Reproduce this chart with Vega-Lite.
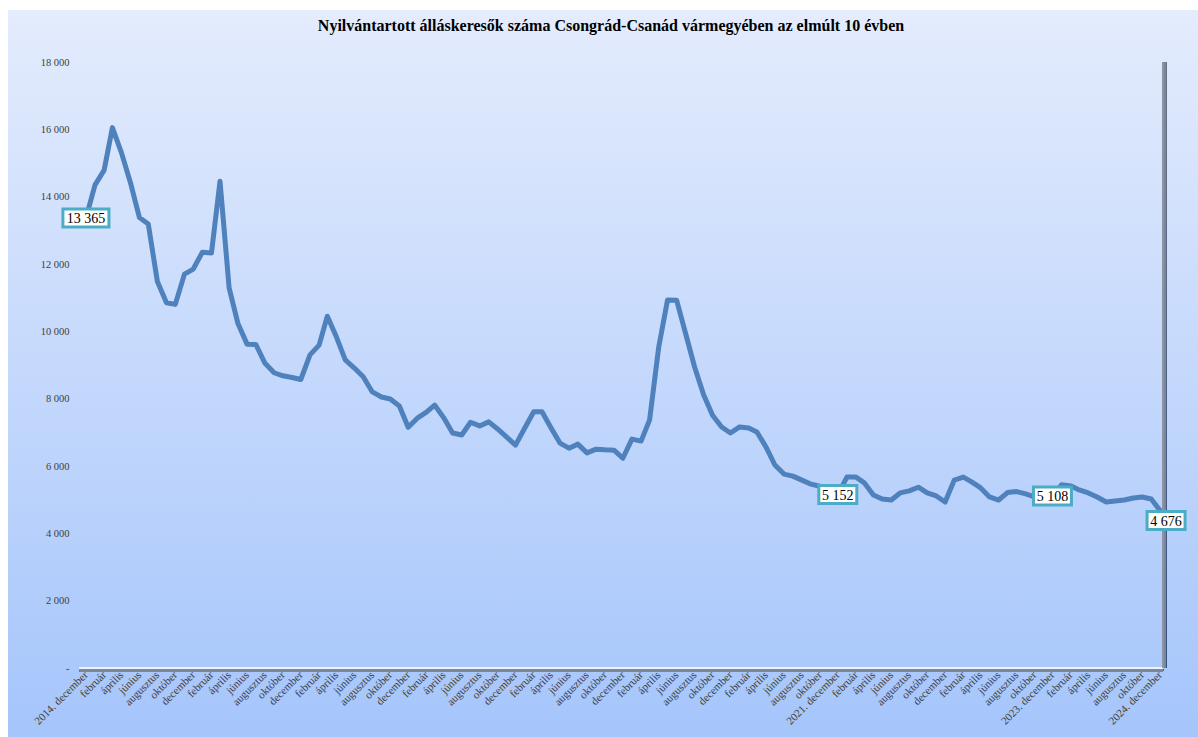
{
  "$schema": "https://vega.github.io/schema/vega-lite/v6.json",
  "autosize": {"type": "none"},
  "padding": {"left": 8, "top": 10, "right": 0, "bottom": 0},
  "width": 1190,
  "height": 727,
  "background": "white",
  "config": {
    "locale": {"number": {"decimal": ",", "thousands": " ", "grouping": [3], "currency": ["", " Ft"]}},
    "view": {"stroke": null, "fill": {"gradient": "linear", "x1": 0, "y1": 0, "x2": 0, "y2": 1, "stops": [{"offset": 0, "color": "#e4ecfd"}, {"offset": 1, "color": "#a5c5fb"}]}},
    "title": {"font": "Liberation Serif", "fontSize": 16, "fontWeight": "bold", "color": "#000000", "anchor": "middle", "baseline": "alphabetic", "offset": -24, "dx": 8}
  },
  "title": "Nyilvántartott álláskeresők száma Csongrád-Csanád vármegyében az elmúlt 10 évben",
  "data": {
    "format": {"parse": {"date": "date"}},
    "values": [
      {"date": "2014-12-01", "value": 13365},
      {"date": "2015-01-01", "value": 14350},
      {"date": "2015-02-01", "value": 14790},
      {"date": "2015-03-01", "value": 16050},
      {"date": "2015-04-01", "value": 15300},
      {"date": "2015-05-01", "value": 14430},
      {"date": "2015-06-01", "value": 13380},
      {"date": "2015-07-01", "value": 13190},
      {"date": "2015-08-01", "value": 11480},
      {"date": "2015-09-01", "value": 10850},
      {"date": "2015-10-01", "value": 10800},
      {"date": "2015-11-01", "value": 11700},
      {"date": "2015-12-01", "value": 11850},
      {"date": "2016-01-01", "value": 12350},
      {"date": "2016-02-01", "value": 12330},
      {"date": "2016-03-01", "value": 14460},
      {"date": "2016-04-01", "value": 11290},
      {"date": "2016-05-01", "value": 10230},
      {"date": "2016-06-01", "value": 9620},
      {"date": "2016-07-01", "value": 9610},
      {"date": "2016-08-01", "value": 9050},
      {"date": "2016-09-01", "value": 8770},
      {"date": "2016-10-01", "value": 8680},
      {"date": "2016-11-01", "value": 8630},
      {"date": "2016-12-01", "value": 8570},
      {"date": "2017-01-01", "value": 9300},
      {"date": "2017-02-01", "value": 9590},
      {"date": "2017-03-01", "value": 10450},
      {"date": "2017-04-01", "value": 9830},
      {"date": "2017-05-01", "value": 9150},
      {"date": "2017-06-01", "value": 8910},
      {"date": "2017-07-01", "value": 8650},
      {"date": "2017-08-01", "value": 8200},
      {"date": "2017-09-01", "value": 8050},
      {"date": "2017-10-01", "value": 7990},
      {"date": "2017-11-01", "value": 7780},
      {"date": "2017-12-01", "value": 7150},
      {"date": "2018-01-01", "value": 7420},
      {"date": "2018-02-01", "value": 7600},
      {"date": "2018-03-01", "value": 7810},
      {"date": "2018-04-01", "value": 7430},
      {"date": "2018-05-01", "value": 6980},
      {"date": "2018-06-01", "value": 6920},
      {"date": "2018-07-01", "value": 7300},
      {"date": "2018-08-01", "value": 7190},
      {"date": "2018-09-01", "value": 7310},
      {"date": "2018-10-01", "value": 7100},
      {"date": "2018-11-01", "value": 6860},
      {"date": "2018-12-01", "value": 6620},
      {"date": "2019-01-01", "value": 7120},
      {"date": "2019-02-01", "value": 7610},
      {"date": "2019-03-01", "value": 7610},
      {"date": "2019-04-01", "value": 7130},
      {"date": "2019-05-01", "value": 6680},
      {"date": "2019-06-01", "value": 6530},
      {"date": "2019-07-01", "value": 6650},
      {"date": "2019-08-01", "value": 6390},
      {"date": "2019-09-01", "value": 6500},
      {"date": "2019-10-01", "value": 6480},
      {"date": "2019-11-01", "value": 6470},
      {"date": "2019-12-01", "value": 6230},
      {"date": "2020-01-01", "value": 6800},
      {"date": "2020-02-01", "value": 6740},
      {"date": "2020-03-01", "value": 7370},
      {"date": "2020-04-01", "value": 9530},
      {"date": "2020-05-01", "value": 10930},
      {"date": "2020-06-01", "value": 10920},
      {"date": "2020-07-01", "value": 9950},
      {"date": "2020-08-01", "value": 8940},
      {"date": "2020-09-01", "value": 8110},
      {"date": "2020-10-01", "value": 7510},
      {"date": "2020-11-01", "value": 7160},
      {"date": "2020-12-01", "value": 6980},
      {"date": "2021-01-01", "value": 7160},
      {"date": "2021-02-01", "value": 7130},
      {"date": "2021-03-01", "value": 7010},
      {"date": "2021-04-01", "value": 6560},
      {"date": "2021-05-01", "value": 6030},
      {"date": "2021-06-01", "value": 5760},
      {"date": "2021-07-01", "value": 5700},
      {"date": "2021-08-01", "value": 5580},
      {"date": "2021-09-01", "value": 5460},
      {"date": "2021-10-01", "value": 5400},
      {"date": "2021-11-01", "value": 5300},
      {"date": "2021-12-01", "value": 5152},
      {"date": "2022-01-01", "value": 5670},
      {"date": "2022-02-01", "value": 5670},
      {"date": "2022-03-01", "value": 5500},
      {"date": "2022-04-01", "value": 5140},
      {"date": "2022-05-01", "value": 5020},
      {"date": "2022-06-01", "value": 4990},
      {"date": "2022-07-01", "value": 5200},
      {"date": "2022-08-01", "value": 5260},
      {"date": "2022-09-01", "value": 5370},
      {"date": "2022-10-01", "value": 5200},
      {"date": "2022-11-01", "value": 5110},
      {"date": "2022-12-01", "value": 4930},
      {"date": "2023-01-01", "value": 5580},
      {"date": "2023-02-01", "value": 5670},
      {"date": "2023-03-01", "value": 5530},
      {"date": "2023-04-01", "value": 5350},
      {"date": "2023-05-01", "value": 5080},
      {"date": "2023-06-01", "value": 4990},
      {"date": "2023-07-01", "value": 5210},
      {"date": "2023-08-01", "value": 5240},
      {"date": "2023-09-01", "value": 5170},
      {"date": "2023-10-01", "value": 5080},
      {"date": "2023-11-01", "value": 5090},
      {"date": "2023-12-01", "value": 5108},
      {"date": "2024-01-01", "value": 5440},
      {"date": "2024-02-01", "value": 5410},
      {"date": "2024-03-01", "value": 5290},
      {"date": "2024-04-01", "value": 5200},
      {"date": "2024-05-01", "value": 5080},
      {"date": "2024-06-01", "value": 4930},
      {"date": "2024-07-01", "value": 4960},
      {"date": "2024-08-01", "value": 4990},
      {"date": "2024-09-01", "value": 5050},
      {"date": "2024-10-01", "value": 5080},
      {"date": "2024-11-01", "value": 5020},
      {"date": "2024-12-01", "value": 4676}
    ]
  },
  "encoding": {
    "x": {
      "field": "date", "type": "temporal",
      "scale": {"type": "utc", "domain": [{"year": 2014, "month": 3, "date": 11, "utc": true}, {"year": 2025, "month": 4, "date": 9, "utc": true}], "nice": false},
      "axis": {
        "title": null, "orient": "bottom", "offset": -69, "domain": false, "ticks": false, "grid": false,
        "tickCount": {"interval": "month", "step": 1},
        "labelAngle": -45, "labelAlign": "right", "labelBaseline": "middle", "labelPadding": 5,
        "labelFont": "Liberation Serif", "labelFontSize": 11, "labelColor": "#404040",
        "labelOverlap": false, "labelBound": false, "labelFlush": false,
        "labelExpr": "(utcyear(datum.value)*12+utcmonth(datum.value) < 24179 || utcyear(datum.value)*12+utcmonth(datum.value) > 24299 || utcmonth(datum.value) % 2 == 0) ? '' : ((utcmonth(datum.value) == 11 && indexof([2014, 2021, 2023, 2024], utcyear(datum.value)) >= 0) ? utcyear(datum.value) + '. december' : ['január','február','március','április','május','június','július','augusztus','szeptember','október','november','december'][utcmonth(datum.value)])"
      }
    },
    "y": {
      "field": "value", "type": "quantitative",
      "scale": {"domain": [-2049.5, 19544.6], "nice": false, "zero": false},
      "axis": {
        "title": null, "orient": "left", "offset": -70, "domain": false, "ticks": false, "grid": false,
        "values": [0, 2000, 4000, 6000, 8000, 10000, 12000, 14000, 16000, 18000],
        "format": ",.0f", "labelExpr": "datum.value == 0 ? '-' : datum.label",
        "labelPadding": 9, "labelFont": "Liberation Serif", "labelFontSize": 10.5, "labelColor": "#404040"
      }
    }
  },
  "layer": [
    {
      "mark": {"type": "rule", "color": "#7a879c", "strokeWidth": 2.5, "opacity": 0.55, "yOffset": 2},
      "encoding": {
        "x": {"datum": {"year": 2014, "month": 11, "date": 10, "utc": true}, "type": "temporal"},
        "x2": {"datum": {"year": 2024, "month": 12, "date": 11, "utc": true}},
        "y": {"datum": 0}
      }
    },
    {
      "mark": {"type": "rule", "color": "#eef3fc", "strokeWidth": 1.2},
      "encoding": {
        "x": {"datum": {"year": 2014, "month": 11, "date": 10, "utc": true}, "type": "temporal"},
        "x2": {"datum": {"year": 2024, "month": 12, "date": 11, "utc": true}},
        "y": {"datum": 0}
      }
    },
    {
      "mark": {"type": "rule", "color": "#7a879c", "strokeWidth": 2, "opacity": 0.35, "xOffset": 2},
      "encoding": {
        "x": {"datum": {"year": 2024, "month": 12, "date": 11, "utc": true}, "type": "temporal"},
        "y": {"datum": 0},
        "y2": {"datum": 18000}
      }
    },
    {
      "mark": {"type": "rule", "color": "#8c94a4", "strokeWidth": 1.6},
      "encoding": {
        "x": {"datum": {"year": 2024, "month": 12, "date": 11, "utc": true}, "type": "temporal"},
        "y": {"datum": 0},
        "y2": {"datum": 18000}
      }
    },
    {
      "mark": {"type": "line", "color": "#4f81bd", "strokeWidth": 5, "strokeJoin": "round", "strokeCap": "round"}
    },
    {
      "transform": [{"filter": "utcmonth(datum.date) == 11 && indexof([2014, 2021, 2023], utcyear(datum.date)) >= 0"}],
      "mark": {"type": "point", "filled": true, "fill": "white", "stroke": "#4bacc6", "strokeWidth": 3, "opacity": 1, "fillOpacity": 1},
      "encoding": {
        "shape": {"condition": {"test": "datum.value >= 10000", "value": "M-1,-0.391H1V0.391H-1Z"}, "value": "M-1,-0.474H1V0.474H-1Z"},
        "size": {"condition": {"test": "datum.value >= 10000", "value": 2116}, "value": 1444}
      }
    },
    {
      "transform": [{"filter": "utcmonth(datum.date) == 11 && indexof([2014, 2021, 2023], utcyear(datum.date)) >= 0"}],
      "mark": {"type": "text", "font": "Liberation Serif", "fontSize": 14, "color": "#000000", "align": "center", "baseline": "middle", "dy": 1},
      "encoding": {"text": {"field": "value", "type": "quantitative", "format": ","}}
    },
    {
      "transform": [{"filter": "utcmonth(datum.date) == 11 && utcyear(datum.date) == 2024"}],
      "mark": {"type": "point", "filled": true, "fill": "white", "stroke": "#4bacc6", "strokeWidth": 3, "opacity": 1, "fillOpacity": 1, "shape": "M-1,-0.474H1V0.474H-1Z", "size": 1444, "xOffset": 6, "yOffset": 10}
    },
    {
      "transform": [{"filter": "utcmonth(datum.date) == 11 && utcyear(datum.date) == 2024"}],
      "mark": {"type": "text", "font": "Liberation Serif", "fontSize": 14, "color": "#000000", "align": "center", "baseline": "middle", "dx": 6, "dy": 11},
      "encoding": {"text": {"field": "value", "type": "quantitative", "format": ","}}
    }
  ]
}
